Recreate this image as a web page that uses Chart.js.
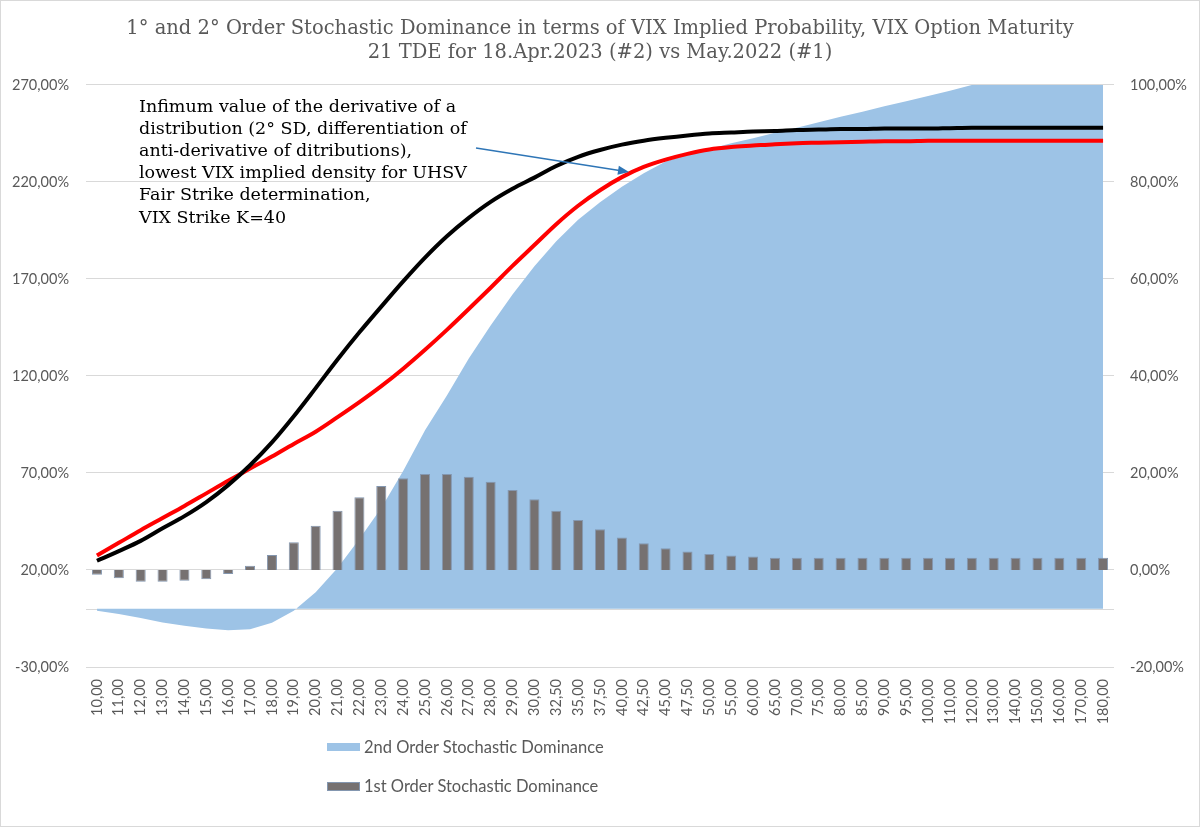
<!DOCTYPE html>
<html>
<head>
<meta charset="utf-8">
<title>1° and 2° Order Stochastic Dominance</title>
<script src="https://cdn.jsdelivr.net/npm/chart.js@4.4.1/dist/chart.umd.min.js"></script>
<style>
  html, body { margin: 0; padding: 0; background: #fff; }
  #wrap { position: relative; width: 1200px; height: 827px; }
  #frame { position: absolute; left: 0; top: 0; width: 1200px; height: 827px; box-sizing: border-box; border: 1px solid #d9d9d9; pointer-events: none; }
  .legend-item { position: absolute; left: 327px; height: 20px; line-height: 20px; font: 16.5px Lato, sans-serif; color: #595959; display: flex; align-items: center; white-space: nowrap; }
  .swatch { display: inline-block; width: 33px; height: 8px; margin-right: 4px; box-sizing: border-box; }
</style>
</head>
<body>
<div id="wrap">
  <canvas id="sdChart" width="1200" height="827"></canvas>
  <div class="legend-item" style="top:737px"><span class="swatch" style="background:#9dc3e6"></span>2nd Order Stochastic Dominance</div>
  <div class="legend-item" style="top:776px"><span class="swatch" style="background:#767171;border:1px solid #8497b0;height:9px"></span>1st Order Stochastic Dominance</div>
  <div id="frame"></div>
</div>
<script>
// VIX strikes (category axis)
const vixStrikes = [
  '10,00', '11,00', '12,00', '13,00', '14,00', '15,00', '16,00', '17,00', '18,00', '19,00',
  '20,00', '21,00', '22,00', '23,00', '24,00', '25,00', '26,00', '27,00', '28,00', '29,00',
  '30,00', '32,50', '35,00', '37,50', '40,00', '42,50', '45,00', '47,50', '50,00', '55,00',
  '60,00', '65,00', '70,00', '75,00', '80,00', '85,00', '90,00', '95,00', '100,00', '110,00',
  '120,00', '130,00', '140,00', '150,00', '160,00', '170,00', '180,00'
];

// 1st order SD, bars, right axis (%)
const firstOrderSD = [
  -1.0, -1.7, -2.4, -2.4, -2.2, -1.9, -0.8, 0.9, 3.1, 5.7,
  9.1, 12.2, 15.0, 17.3, 18.9, 19.8, 19.8, 19.2, 18.2, 16.5,
  14.6, 12.2, 10.3, 8.4, 6.7, 5.5, 4.5, 3.8, 3.3, 3.0,
  2.8, 2.5, 2.5, 2.5, 2.5, 2.5, 2.5, 2.5, 2.5, 2.5,
  2.5, 2.5, 2.5, 2.5, 2.5, 2.5, 2.5
];

// 2nd order SD, area, left axis (%)
const secondOrderSD = [
  -1.0, -2.7, -4.8, -7.0, -8.8, -10.1, -11.0, -10.5, -7.2, -1.0,
  8.5, 21, 36, 52, 71, 92, 110, 129, 146, 162,
  176.5, 189.5, 200.5, 209.5, 217.5, 224.5, 230.5, 234, 237, 240,
  242.6, 245.4, 248, 250.8, 253.6, 256.2, 259, 261.6, 264.3, 267,
  270, 272.5, 275, 277.5, 280, 282.5, 285
];

// implied cumulative probability, black curve, right axis (%)
const cdfBlack = [
  1.9, 3.9, 6.0, 8.6, 11.1, 14.0, 17.5, 21.6, 26.3, 31.7,
  37.5, 43.4, 49.0, 54.3, 59.5, 64.4, 68.8, 72.6, 75.9, 78.6,
  80.9, 83.3, 85.2, 86.6, 87.7, 88.5, 89.1, 89.6, 90.0, 90.2,
  90.4, 90.5, 90.7, 90.8, 90.9, 90.9, 91.0, 91.0, 91.0, 91.1,
  91.2, 91.2, 91.2, 91.2, 91.2, 91.2, 91.2
];

// implied cumulative probability, red curve, right axis (%)
const cdfRed = [
  3.0, 5.6, 8.2, 10.7, 13.2, 15.8, 18.4, 20.9, 23.4, 26.0,
  28.5, 31.5, 34.6, 37.9, 41.5, 45.4, 49.5, 53.8, 58.2, 62.7,
  67.0, 71.3, 75.1, 78.3, 81.0, 83.1, 84.6, 85.8, 86.7, 87.2,
  87.5, 87.8, 88.0, 88.1, 88.2, 88.3, 88.4, 88.4, 88.5, 88.5,
  88.5, 88.5, 88.5, 88.5, 88.5, 88.5, 88.5
];

const titleLines = [
  '1° and 2° Order Stochastic Dominance in terms of VIX Implied Probability, VIX Option Maturity',
  '21 TDE for 18.Apr.2023 (#2) vs May.2022 (#1)'
];

const noteLines = [
  'Infimum value of the derivative of a',
  'distribution (2° SD, differentiation of',
  'anti-derivative of ditributions),',
  'lowest VIX implied density for UHSV',
  'Fair Strike determination,',
  'VIX Strike K=40'
];

const gridColor = '#d9d9d9';
const axisText = '#595959';

function pct(v) {
  return v.toFixed(2).replace('.', ',') + '%';
}

// horizontal category axis line, crossing the left axis at 0
const zeroLine = {
  id: 'zeroLine',
  beforeDatasetsDraw(chart) {
    const { ctx, chartArea } = chart;
    const y = Math.round(chart.scales.y.getPixelForValue(0)) + 0.5;
    ctx.save();
    ctx.strokeStyle = gridColor;
    ctx.lineWidth = 1;
    ctx.beginPath();
    ctx.moveTo(chartArea.left, y);
    ctx.lineTo(chartArea.right, y);
    ctx.stroke();
    ctx.restore();
  }
};

// text box with arrow
const noteBox = {
  id: 'noteBox',
  afterDatasetsDraw(chart) {
    const ctx = chart.ctx;
    ctx.save();
    ctx.fillStyle = '#000';
    ctx.font = '17.5px "DejaVu Serif", serif';
    ctx.textBaseline = 'middle';
    noteLines.forEach((line, i) => ctx.fillText(line, 139, 107 + i * 22.2));

    const x0 = 476, y0 = 148, x1 = 629, y1 = 172;
    const ang = Math.atan2(y1 - y0, x1 - x0);
    ctx.strokeStyle = '#2e75b6';
    ctx.fillStyle = '#2e75b6';
    ctx.lineWidth = 1.3;
    ctx.beginPath();
    ctx.moveTo(x0, y0);
    ctx.lineTo(x1 - 8 * Math.cos(ang), y1 - 8 * Math.sin(ang));
    ctx.stroke();
    ctx.beginPath();
    ctx.moveTo(x1, y1);
    ctx.lineTo(x1 - 11 * Math.cos(ang) + 4.5 * Math.sin(ang), y1 - 11 * Math.sin(ang) - 4.5 * Math.cos(ang));
    ctx.lineTo(x1 - 11 * Math.cos(ang) - 4.5 * Math.sin(ang), y1 - 11 * Math.sin(ang) + 4.5 * Math.cos(ang));
    ctx.closePath();
    ctx.fill();
    ctx.restore();
  }
};

new Chart(document.getElementById('sdChart'), {
  type: 'bar',
  data: {
    labels: vixStrikes,
    datasets: [
      {
        type: 'line',
        label: 'CDF black',
        data: cdfBlack,
        yAxisID: 'y2',
        borderColor: '#000000',
        borderWidth: 4,
        pointRadius: 0,
        cubicInterpolationMode: 'monotone',
        fill: false
      },
      {
        type: 'line',
        label: 'CDF red',
        data: cdfRed,
        yAxisID: 'y2',
        borderColor: '#ff0000',
        borderWidth: 4,
        pointRadius: 0,
        cubicInterpolationMode: 'monotone',
        fill: false
      },
      {
        type: 'bar',
        label: '1st Order Stochastic Dominance',
        data: firstOrderSD,
        yAxisID: 'y2',
        backgroundColor: '#767171',
        borderColor: '#8497b0',
        borderWidth: 1,
        categoryPercentage: 1,
        barPercentage: 0.46
      },
      {
        type: 'line',
        label: '2nd Order Stochastic Dominance',
        data: secondOrderSD,
        yAxisID: 'y',
        borderWidth: 0,
        borderColor: 'rgba(0,0,0,0)',
        backgroundColor: '#9dc3e6',
        pointRadius: 0,
        tension: 0,
        fill: 'origin'
      }
    ]
  },
  options: {
    responsive: false,
    animation: false,
    layout: { padding: 0 },
    plugins: {
      legend: { display: false },
      tooltip: { enabled: false },
      title: {
        display: true,
        text: titleLines,
        color: axisText,
        font: { family: '"DejaVu Serif", serif', size: 19.5, weight: 'normal', lineHeight: 1.23 },
        padding: { top: 17, bottom: 20 }
      }
    },
    scales: {
      x: {
        offset: true,
        grid: { display: false, drawTicks: false },
        border: { display: false },
        ticks: {
          autoSkip: false,
          minRotation: 90,
          maxRotation: 90,
          padding: 12,
          color: axisText,
          font: { family: 'Lato', size: 14.5 }
        },
        afterFit(scale) { scale.height = 160; }
      },
      y: {
        position: 'left',
        min: -30,
        max: 270,
        grid: { color: gridColor, drawTicks: false },
        border: { display: false },
        ticks: {
          stepSize: 50,
          padding: 17,
          color: axisText,
          font: { family: 'Lato', size: 14.5 },
          callback: (v) => pct(v)
        },
        afterFit(scale) { scale.width = 86; }
      },
      y2: {
        position: 'right',
        min: -20,
        max: 100,
        grid: { display: false, drawTicks: false },
        border: { display: false },
        ticks: {
          stepSize: 20,
          padding: 16,
          color: axisText,
          font: { family: 'Lato', size: 14.5 },
          callback: (v) => pct(v)
        },
        afterFit(scale) { scale.width = 86; }
      }
    }
  },
  plugins: [zeroLine, noteBox]
});
</script>
</body>
</html>
